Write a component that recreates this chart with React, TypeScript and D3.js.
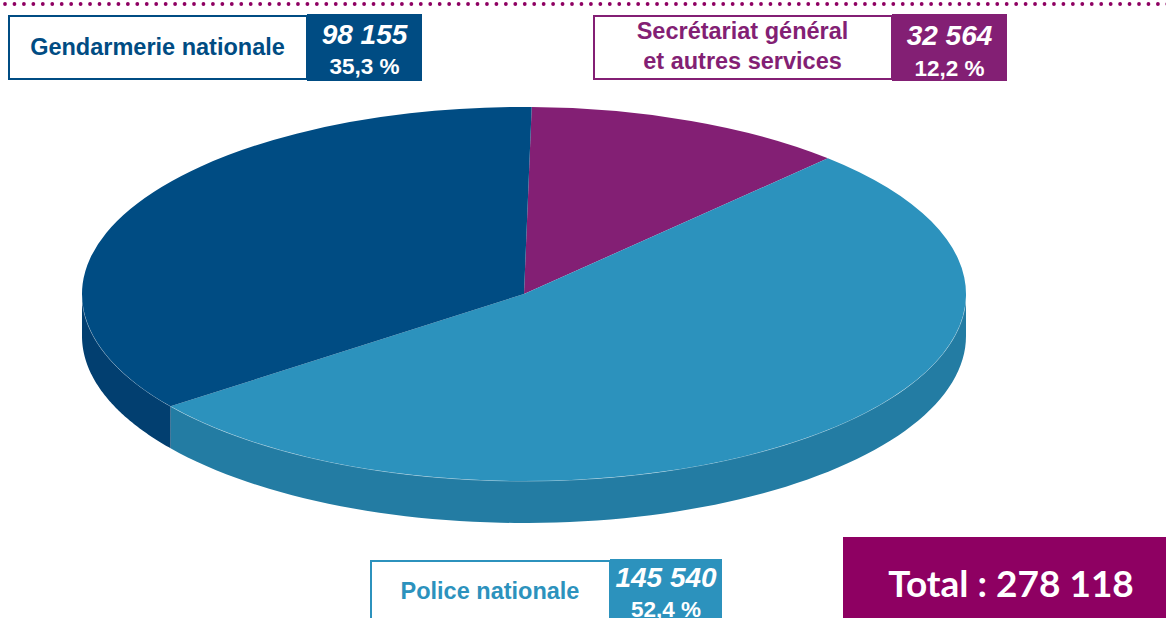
import React from "react";
import * as d3 from "d3";

// Data (pie order: starting at 12 o'clock, clockwise)
const categories = ["Secrétariat général et autres services", "Police nationale", "Gendarmerie nationale"];
const values = [32564, 145540, 98155];
const valueLabels = ["32 564", "145 540", "98 155"];
const percentLabels = ["12,2 %", "52,4 %", "35,3 %"];
const totalLabel = "Total : 278 118";

const topColors = ["#831f74", "#2c92bd", "#004c83"];
const sideColors = ["#6a165d", "#237ca3", "#023f70"];
const labelColors = ["#831f74", "#2c92bd", "#004c83"];

const W = 1166, H = 618;
const cx = 524, cy = 294, rx = 442, ry = 187, depth = 42;
const rot = (1 * Math.PI) / 180;

export default function App() {
  const pie = d3.pie<number>().sort(null).value((d) => d).startAngle(rot).endAngle(2 * Math.PI + rot);
  const arcs = pie(values);
  const arcGen = d3.arc<d3.PieArcDatum<number>>().innerRadius(0).outerRadius(rx);

  const pt = (a: number, dy = 0): [number, number] => [cx + rx * Math.sin(a), cy - ry * Math.cos(a) + dy];
  const line = d3.line();

  const sides = arcs.map((a, i) => {
    const s = Math.max(a.startAngle, Math.PI / 2);
    const e = Math.min(a.endAngle, (3 * Math.PI) / 2);
    if (e <= s) return null;
    const n = 80;
    const top: [number, number][] = d3.range(n + 1).map((k) => pt(s + ((e - s) * k) / n));
    const bot: [number, number][] = d3.range(n + 1).map((k) => pt(e - ((e - s) * k) / n, depth));
    const rim = line(top) || "";
    return { d: line([...top, ...bot]) + "Z", fill: sideColors[i], rim, key: i };
  });

  const dots = d3.range(0, 124).map((k) => 5 + k * 9.45);

  const boxes = [
    { i: 0, x: 593, y: 15, w: 299, cw: 115, h: 65, lines: ["Secrétariat général", "et autres services"], ly: [39, 69], ny: 45, py: 76 },
    { i: 1, x: 370, y: 560, w: 240, cw: 112, h: 70, lines: ["Police nationale"], ly: [599], ny: 587, py: 617 },
    { i: 2, x: 8, y: 15, w: 299, cw: 115, h: 65, lines: ["Gendarmerie nationale"], ly: [55], ny: 44, py: 74 },
  ];

  return (
    <svg width={W} height={H} style={{ position: "absolute", left: 0, top: 0, background: "#fff" }}
      fontFamily="'Liberation Sans', Arial, sans-serif">
      {dots.map((x, k) => (
        <circle key={k} cx={x} cy={4} r={1.9} fill="#8e0062" />
      ))}

      {sides.map((s) => s && <path key={s.key} d={s.d} fill={s.fill} />)}
      {sides.map((s) => s && <path key={"r" + s.key} d={s.rim} fill="none" stroke="#ffffff" strokeOpacity={0.55} strokeWidth={0.8} />)}

      <g transform={`translate(${cx},${cy}) scale(1,${ry / rx})`}>
        {arcs.map((a, i) => (
          <path key={i} d={arcGen(a) || ""} fill={topColors[i]} />
        ))}
      </g>

      {boxes.map((b) => {
        const c = labelColors[b.i];
        return (
          <g key={b.i}>
            <rect x={b.x + 1} y={b.y + 1} width={b.w - 1} height={b.h - 2} fill="#fff" stroke={c} strokeWidth={2} />
            <rect x={b.x + b.w} y={b.y - 1} width={b.cw} height={b.h + 2} fill={c} />
            {b.lines.map((t, k) => (
              <text key={k} x={b.x + b.w / 2} y={b.ly[k]} textAnchor="middle" fontWeight="bold" fontSize={23.5} fill={c}>
                {t}
              </text>
            ))}
            <text x={b.x + b.w + b.cw / 2} y={b.ny} textAnchor="middle" fontWeight="bold" fontStyle="italic" fontSize={28} fill="#fff">
              {valueLabels[b.i]}
            </text>
            <text x={b.x + b.w + b.cw / 2} y={b.py} textAnchor="middle" fontWeight="bold" fontSize={22.5} fill="#fff">
              {percentLabels[b.i]}
            </text>
            <title>{categories[b.i]}</title>
          </g>
        );
      })}

      <rect x={843} y={537} width={323} height={81} fill="#8e0062" />
      <text x={1011} y={597} textAnchor="middle" fontWeight="bold" fontSize={37} fill="#fff" fontFamily="Lato, 'Open Sans', sans-serif">
        {totalLabel}
      </text>
    </svg>
  );
}
